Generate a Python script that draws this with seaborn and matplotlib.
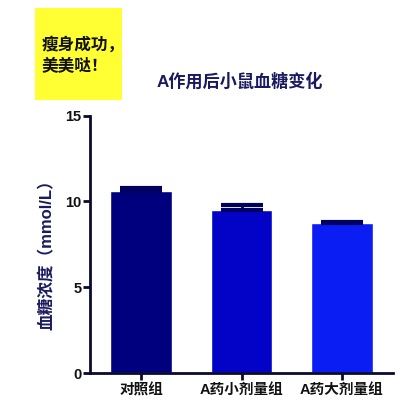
import matplotlib
matplotlib.use("Agg")
import matplotlib.pyplot as plt
import pandas as pd
import seaborn as sns
from matplotlib.patches import Rectangle

# dados
grupos = ["对照组", "A药小剂量组", "A药大剂量组"]
glicemia = [10.62, 9.53, 8.72]
erro = [0.16, 0.27, 0.1]
cores = ["#00007e", "#0303c8", "#0a1ef4"]

titulo = "A作用后小鼠血糖变化"
rotulo_y = "血糖浓度（mmol/L）"
nota = "瘦身成功，\n美美哒！"
ticks_y = [0, 5, 10, 15]

sns.set_style("ticks")
plt.rcParams["font.family"] = ["Liberation Sans", "Noto Sans CJK SC"]

df = pd.DataFrame({"grupo": grupos, "valor": glicemia})

fig = plt.figure(figsize=(4.2, 4.2), dpi=100)
ax = fig.add_axes([0.214, 0.111, 0.722, 0.614])

sns.barplot(data=df, x="grupo", y="valor", hue="grupo", palette=cores,
            width=0.61, legend=False, ax=ax, errorbar=None, saturation=1)
ax.errorbar(range(len(grupos)), glicemia, yerr=[[0] * len(erro), erro],
            fmt="none", ecolor="#000060", elinewidth=2, capsize=15, capthick=3)

ax.set_xlim(-0.51, 2.51)
ax.set_ylim(0, 15)
ax.set_yticks(ticks_y)
ax.set_xlabel("")
ax.set_ylabel(rotulo_y, fontsize=12, fontweight="bold", color="#1a1a5e")
ax.yaxis.set_label_coords(-0.115, 0.475)

sns.despine(ax=ax)
for lado in ["left", "bottom"]:
    ax.spines[lado].set_linewidth(2)
    ax.spines[lado].set_color("#0a0a30")
ax.tick_params(axis="both", width=2, length=5, color="#0a0a30")
ax.tick_params(axis="y", labelsize=10.5, pad=1)
ax.tick_params(axis="x", labelsize=10.5, pad=2)
for t in ax.get_xticklabels() + ax.get_yticklabels():
    t.set_fontweight("bold")
    t.set_color("#111111")

# caixa amarela com o texto
fig.patches.append(Rectangle((35 / 420, 1 - 100 / 420), 87 / 420, 92 / 420,
                             transform=fig.transFigure, facecolor="#ffff33",
                             edgecolor="none", zorder=0))
fig.text(42 / 420, 1 - 55 / 420, nota, fontsize=12, fontweight="bold",
         color="#111111", va="center", ha="left", linespacing=1.35)
fig.text(240 / 420, 1 - 81 / 420, titulo, fontsize=12.3, fontweight="bold",
         color="#1a1a5e", va="center", ha="center")

fig.savefig("out.png", dpi=100)
